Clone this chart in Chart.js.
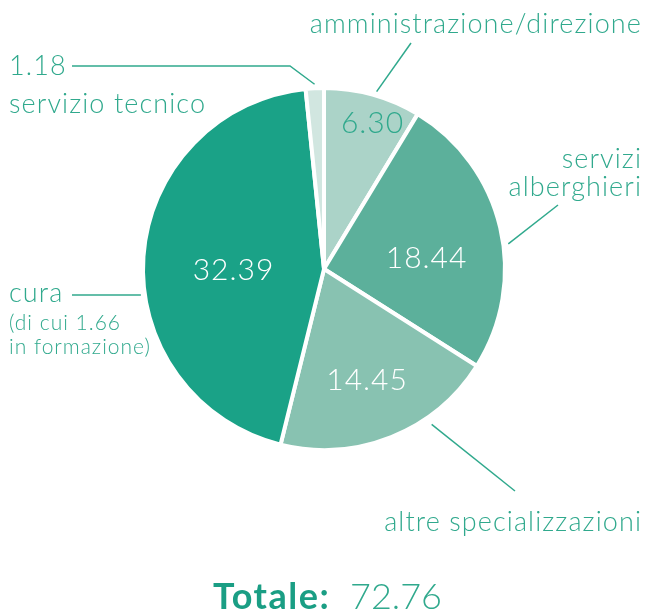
<!DOCTYPE html>
<html>
<head>
<meta charset="utf-8">
<script src="https://cdn.jsdelivr.net/npm/chart.js@4"></script>
<style>
  html, body { margin: 0; padding: 0; background: #fff; }
  #wrap { width: 648px; height: 615px; position: relative; }
</style>
</head>
<body>
<div id="wrap"><canvas id="pie" width="648" height="615"></canvas></div>
<script>
// data, clockwise from the top
const categories = ['amministrazione/direzione', 'servizi alberghieri', 'altre specializzazioni', 'cura', 'servizio tecnico'];
const values = [6.30, 18.44, 14.45, 32.39, 1.18];
const valueLabels = ['6.30', '18.44', '14.45', '32.39', '1.18'];
const totalLabel = '72.76';

const colors = ['#abd3c8', '#5cb09b', '#88c2b1', '#1aa287', '#d1e6e0'];
const textColor = '#30a98d';
const lightFont = '"Lato", "Open Sans", sans-serif';

// where along each slice the leader line meets the pie (fraction of the slice)
const leaderFrac = [0.53, 0.56, 0.32, 0.43, 0.5];
// value label placement inside slices: fraction of slice angle, fraction of radius
const insideFrac = [[0.59, 0.85], [0.58, 0.57], [0.51, 0.66], [0.47, 0.5]];

const labelsPlugin = {
    id: 'pieLabels',
    afterDatasetsDraw(chart) {
        const ctx = chart.ctx;
        const arcs = chart.getDatasetMeta(0).data;

        function edgePoint(i, extra) {
            const a = arcs[i];
            const ang = a.startAngle + (a.endAngle - a.startAngle) * leaderFrac[i];
            const r = a.outerRadius + extra;
            return { x: a.x + Math.cos(ang) * r, y: a.y + Math.sin(ang) * r };
        }

        // values inside slices
        ctx.save();
        ctx.font = '300 30px ' + lightFont;
        ctx.letterSpacing = '1px';
        ctx.textAlign = 'center';
        ctx.textBaseline = 'middle';
        insideFrac.forEach((f, i) => {
            const a = arcs[i];
            const ang = a.startAngle + (a.endAngle - a.startAngle) * f[0];
            const rr = f[1] * a.outerRadius;
            ctx.fillStyle = i === 0 ? textColor : '#ffffff';
            ctx.fillText(valueLabels[i], a.x + Math.cos(ang) * rr, a.y + Math.sin(ang) * rr);
        });

        // leader lines
        ctx.strokeStyle = textColor;
        ctx.lineWidth = 1.5;
        function line(pts) {
            ctx.beginPath();
            ctx.moveTo(pts[0].x, pts[0].y);
            for (let k = 1; k < pts.length; k++) ctx.lineTo(pts[k].x, pts[k].y);
            ctx.stroke();
        }
        line([{ x: 411, y: 43 }, edgePoint(0, 4)]);
        line([{ x: 558, y: 205 }, edgePoint(1, 5)]);
        line([{ x: 515, y: 491 }, edgePoint(2, 8)]);
        const cura = arcs[3];
        const cy = 295;
        const cx = cura.x - Math.sqrt(cura.outerRadius * cura.outerRadius - (cy - cura.y) * (cy - cura.y)) - 4;
        line([{ x: 72, y: cy }, { x: cx, y: cy }]);
        line([{ x: 72, y: 66 }, { x: 290, y: 66 }, edgePoint(4, 4)]);

        // category texts
        ctx.fillStyle = textColor;
        ctx.textBaseline = 'alphabetic';
        ctx.font = '300 27px ' + lightFont;
        ctx.letterSpacing = '1.1px';
        ctx.textAlign = 'right';
        ctx.fillText(categories[0], 642, 33);
        ctx.fillText('servizi', 642, 168);
        ctx.fillText('alberghieri', 642, 196);
        ctx.fillText(categories[2], 642, 531);
        ctx.textAlign = 'left';
        ctx.fillText(valueLabels[4], 9, 75);
        ctx.fillText(categories[4], 9, 113);
        ctx.fillText(categories[3], 9, 302);
        ctx.font = '300 21px ' + lightFont;
        ctx.letterSpacing = '1px';
        ctx.fillText('(di cui 1.66', 9, 330);
        ctx.fillText('in formazione)', 9, 354);

        // total
        ctx.font = 'bold 36px ' + lightFont;
        ctx.letterSpacing = '1.5px';
        ctx.fillStyle = '#1a9e84';
        ctx.fillText('Totale:', 213, 609);
        ctx.font = '300 36px ' + lightFont;
        ctx.letterSpacing = '0px';
        ctx.fillStyle = textColor;
        ctx.fillText(totalLabel, 350, 609);
        ctx.restore();
    }
};

new Chart(document.getElementById('pie'), {
    type: 'pie',
    data: {
        labels: categories,
        datasets: [{
            data: values,
            backgroundColor: colors,
            borderColor: '#ffffff',
            borderWidth: 4
        }]
    },
    options: {
        responsive: false,
        animation: false,
        layout: { padding: { left: 141, right: 141, top: 85, bottom: 162 } },
        plugins: {
            legend: { display: false },
            tooltip: { enabled: false }
        }
    },
    plugins: [labelsPlugin]
});
</script>
</body>
</html>
